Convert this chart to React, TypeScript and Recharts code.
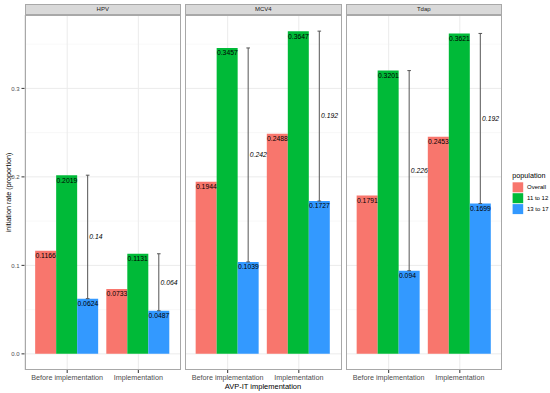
import React from "react";
import { Bar, BarChart, CartesianGrid, ErrorBar, LabelList, XAxis, YAxis } from "recharts";

const vaccines = ["HPV", "MCV4", "Tdap"];
const periods = ["Before implementation", "Implementation"];
const populations = ["Overall", "11 to 12", "13 to 17"];
const popColors = ["#F8766D", "#00BA38", "#3399FF"];

// rows: vaccine, cols: period
const overallRate = [
	[0.1166, 0.0733],
	[0.1944, 0.2488],
	[0.1791, 0.2453],
];
const age11to12Rate = [
	[0.2019, 0.1131],
	[0.3457, 0.3647],
	[0.3201, 0.3621],
];
const age13to17Rate = [
	[0.0624, 0.0487],
	[0.1039, 0.1727],
	[0.094, 0.1699],
];
const gapLabels = [
	["0.14", "0.064"],
	["0.242", "0.192"],
	["0.226", "0.192"],
];

const yTicks = [0, 0.1, 0.2, 0.3];
const yMinor = [0.05, 0.15, 0.25, 0.35];
const yDomain: [number, number] = [-0.01824, 0.38294];

const FONT = "'Liberation Sans', Arial, sans-serif";
const PANEL_LEFT = [24.5, 185, 345.5];
const PANEL_W = 156.5;
const PLOT_TOP = 15;
const PLOT_BOTTOM = 370;
const AXIS_W = 24.5;

const box = (p: any) => (p.viewBox && p.viewBox.width !== undefined ? p.viewBox : p);

const valueLabel = (p: any) => {
	const { x, y } = box(p);
	return (
		<text x={x + 0.3} y={y + 7.4} fontSize={6.8} fill="#000" fontFamily={FONT}>
			{String(p.value)}
		</text>
	);
};

function Panel({ idx }: { idx: number }) {
	const rows = periods.map((period, i) => ({
		period,
		overall: overallRate[idx][i],
		young: age11to12Rate[idx][i],
		older: age13to17Rate[idx][i],
		gap: [0, age11to12Rate[idx][i] - age13to17Rate[idx][i]],
		gapLabel: gapLabels[idx][i],
	}));
	const first = idx === 0;
	const axisW = first ? AXIS_W : 0;

	const gapLabel = (p: any) => {
		const { x, y, width, height } = box(p);
		const r = rows[p.index];
		if (!r) return null;
		const pxPerUnit = height / r.older;
		const midY = y - ((r.young - r.older) / 2) * pxPerUnit;
		return (
			<text
				x={x + width / 2 + 1.7}
				y={midY + 2.4}
				fontSize={6.8}
				fontStyle="italic"
				fill="#000"
				fontFamily={FONT}
			>
				{r.gapLabel}
			</text>
		);
	};

	return (
		<div style={{ position: "absolute", left: PANEL_LEFT[idx] - axisW, top: 0 }}>
			<BarChart
				width={PANEL_W + axisW}
				height={393}
				data={rows}
				margin={{ top: PLOT_TOP, right: 0, bottom: 0, left: 0 }}
				barGap={0}
				barCategoryGap="5%"
			>
				<CartesianGrid horizontalValues={yMinor} vertical={false} stroke="#F3F3F3" strokeWidth={0.6} />
				<CartesianGrid horizontalValues={yTicks} stroke="#EBEBEB" strokeWidth={1} />
				<XAxis
					dataKey="period"
					height={393 - PLOT_BOTTOM}
					padding={{ left: 7.1, right: 7.1 }}
					axisLine={false}
					tickSize={3}
					tickLine={{ stroke: "#333" }}
					tick={{ fontSize: 7.2, fill: "#4D4D4D", fontFamily: FONT }}
					interval={0}
				/>
				<YAxis
					hide={!first}
					width={axisW}
					domain={yDomain}
					allowDataOverflow
					ticks={yTicks}
					tickFormatter={(v: number) => v.toFixed(1)}
					axisLine={false}
					tickSize={3}
					tickLine={{ stroke: "#333" }}
					tick={{ fontSize: 6, fill: "#4D4D4D", fontFamily: FONT }}
				/>
				<Bar dataKey="overall" fill={popColors[0]} isAnimationActive={false}>
					<LabelList dataKey="overall" content={valueLabel} />
				</Bar>
				<Bar dataKey="young" fill={popColors[1]} isAnimationActive={false}>
					<LabelList dataKey="young" content={valueLabel} />
				</Bar>
				<Bar dataKey="older" fill={popColors[2]} isAnimationActive={false}>
					<ErrorBar dataKey="gap" width={1.8} stroke="#555" strokeWidth={1} direction="y" isAnimationActive={false} />
					<LabelList dataKey="older" content={valueLabel} />
					<LabelList dataKey="gapLabel" content={gapLabel} />
				</Bar>
			</BarChart>
			{/* panel border */}
			<div
				style={{
					position: "absolute",
					left: axisW,
					top: PLOT_TOP,
					width: PANEL_W,
					height: PLOT_BOTTOM - PLOT_TOP,
					border: "1px solid #A8A8A8",
					boxSizing: "border-box",
					pointerEvents: "none",
				}}
			/>
			{/* strip */}
			<div
				style={{
					position: "absolute",
					left: axisW,
					top: 4.3,
					width: PANEL_W,
					height: 11.2,
					background: "#D9D9D9",
					border: "1px solid #A8A8A8",
					boxSizing: "border-box",
					fontSize: 6,
					lineHeight: "9px",
					textAlign: "center",
					color: "#1A1A1A",
					fontFamily: FONT,
				}}
			>
				{vaccines[idx]}
			</div>
		</div>
	);
}

export default function App() {
	return (
		<div
			style={{
				position: "absolute",
				left: 0,
				top: 0,
				width: 550,
				height: 393,
				background: "#fff",
				fontFamily: FONT,
				overflow: "hidden",
			}}
		>
			{vaccines.map((v, i) => (
				<Panel key={v} idx={i} />
			))}
			<svg style={{ position: "absolute", left: 0, top: 0 }} width={550} height={393} pointerEvents="none">
				<text
					x={8}
					y={(PLOT_TOP + PLOT_BOTTOM) / 2}
					transform={`rotate(-90, 8, ${(PLOT_TOP + PLOT_BOTTOM) / 2})`}
					textAnchor="middle"
					dominantBaseline="central"
					fontSize={7.2}
					fill="#000"
					fontFamily={FONT}
				>
					initiation rate (proportion)
				</text>
				<text x={263} y={388.5} textAnchor="middle" fontSize={7.5} fill="#000" fontFamily={FONT}>
					AVP-IT implementation
				</text>
				<text x={512.3} y={177.5} fontSize={7.2} fill="#000" fontFamily={FONT}>
					population
				</text>
				{populations.map((p, i) => (
					<g key={p}>
						<rect x={512.6} y={182.3 + i * 10.9} width={10.6} height={10} fill={popColors[i]} />
						<text x={527} y={187.3 + i * 10.9} dominantBaseline="central" fontSize={6} fill="#000" fontFamily={FONT}>
							{p}
						</text>
					</g>
				))}
			</svg>
		</div>
	);
}
